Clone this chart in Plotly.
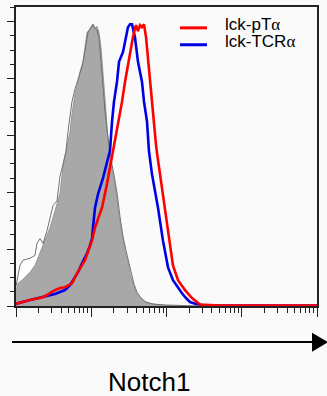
import numpy as np
import plotly.graph_objects as go

# log10 of Notch1 fluorescence intensity and % of max for each histogram
ctrl_fill_logx = [0.000, 0.027, 0.080, 0.186, 0.252, 0.319, 0.385, 0.452, 0.518, 0.585, 0.625, 0.664, 0.718, 0.744, 0.784, 0.824, 0.850, 0.890, 0.917, 0.944, 0.970, 0.997, 1.023, 1.050, 1.076, 1.103, 1.130, 1.143, 1.169, 1.196, 1.223, 1.249, 1.289, 1.329, 1.369, 1.409, 1.449, 1.488, 1.515, 1.555, 1.595, 1.648, 1.714, 1.807, 1.980, 2.179]
ctrl_fill_y = [5.6, 8.0, 9.1, 11.9, 14.3, 18.8, 23.0, 27.6, 33.5, 39.8, 49.2, 54.5, 61.4, 67.7, 74.7, 78.9, 82.4, 85.9, 91.1, 96.3, 97.0, 98.4, 99.1, 97.7, 98.4, 96.3, 91.1, 85.9, 75.4, 68.4, 57.9, 51.7, 46.4, 40.5, 31.8, 24.8, 19.5, 15.4, 11.5, 8.0, 4.9, 2.8, 1.4, 0.7, 0.2, 0.0]

ctrl_line_logx = [0.000, 0.027, 0.053, 0.093, 0.146, 0.186, 0.252, 0.279, 0.319, 0.359, 0.412, 0.452, 0.492, 0.545, 0.585, 0.625, 0.664, 0.691, 0.718, 0.744, 0.784, 0.811, 0.837, 0.877, 0.904, 0.930, 0.957, 0.983, 1.010, 1.023, 1.050, 1.076, 1.103, 1.130, 1.156, 1.183, 1.209, 1.236, 1.262, 1.302, 1.342, 1.382, 1.422, 1.462, 1.502, 1.528, 1.568, 1.608, 1.661, 1.728, 1.821, 1.980, 2.312, 2.445]
ctrl_line_y = [7.0, 10.8, 14.3, 16.1, 16.4, 16.8, 17.8, 22.0, 23.7, 22.0, 26.5, 31.1, 35.3, 37.0, 45.7, 49.9, 54.5, 61.4, 66.7, 71.9, 76.4, 78.9, 80.6, 84.1, 87.6, 92.8, 96.3, 97.4, 98.1, 99.1, 97.7, 97.0, 94.2, 85.9, 75.4, 68.4, 62.1, 56.2, 51.7, 46.1, 39.8, 31.4, 24.4, 19.5, 15.0, 11.2, 7.7, 4.9, 2.8, 1.4, 0.7, 0.35, 0.17, 0.0]

tcra_logx = [0.000, 0.027, 0.186, 0.359, 0.518, 0.585, 0.651, 0.718, 0.757, 0.824, 0.877, 0.944, 0.983, 1.010, 1.023, 1.050, 1.090, 1.156, 1.223, 1.249, 1.276, 1.302, 1.342, 1.369, 1.422, 1.462, 1.488, 1.515, 1.542, 1.581, 1.621, 1.674, 1.701, 1.741, 1.767, 1.807, 1.887, 1.953, 2.020, 2.086, 2.153, 2.206, 2.259, 2.312, 2.392, 2.512, 4.000]
tcra_y = [0.7, 1.0, 2.1, 3.1, 4.2, 4.9, 5.6, 7.3, 9.1, 11.9, 15.0, 18.5, 21.3, 23.7, 27.6, 34.6, 39.4, 45.0, 52.0, 54.5, 64.9, 71.9, 78.9, 85.9, 89.4, 94.6, 98.1, 99.1, 99.1, 94.6, 85.9, 78.9, 71.9, 64.9, 54.5, 46.4, 34.6, 23.0, 13.6, 9.1, 6.3, 4.5, 2.8, 1.4, 0.7, 0.2, 0.2]

ptra_logx = [0.000, 0.027, 0.186, 0.359, 0.452, 0.518, 0.585, 0.651, 0.744, 0.811, 0.917, 1.010, 1.050, 1.143, 1.209, 1.249, 1.276, 1.316, 1.355, 1.409, 1.449, 1.488, 1.515, 1.542, 1.568, 1.595, 1.621, 1.648, 1.674, 1.701, 1.728, 1.754, 1.781, 1.807, 1.834, 1.860, 1.874, 1.914, 1.980, 2.047, 2.086, 2.153, 2.246, 2.339, 2.445, 2.711, 4.000]
ptra_y = [0.7, 1.0, 2.1, 3.1, 4.5, 5.6, 6.3, 6.6, 8.0, 11.5, 16.1, 23.0, 27.6, 34.6, 42.9, 48.5, 52.7, 57.9, 64.2, 71.9, 78.9, 85.2, 89.4, 92.8, 96.3, 98.8, 96.7, 98.8, 98.1, 99.1, 94.6, 86.6, 79.6, 71.9, 64.2, 56.9, 53.8, 46.4, 34.6, 23.0, 14.3, 9.1, 5.6, 2.8, 0.5, 0.2, 0.2]

legend_labels = ["lck-pT", "lck-TCR"]
x_title = "Notch1"

BG = "#fafafa"
W, H = 327, 396
ML, MR, MT, MB = 16, 10, 5, 90
PW = W - ML - MR
PH = H - MT - MB


def px(x):
    return (x - ML) / PW


def py(y):
    return (H - MB - y) / PH


def tx(v):
    return [10 ** a for a in v]


fig = go.Figure()
# white-filled outline control histogram (background)
fig.add_trace(go.Scatter(x=tx(ctrl_line_logx), y=ctrl_line_y, mode="lines",
                         fill="tozeroy", fillcolor="#ffffff",
                         line=dict(width=0, color="#ffffff"), showlegend=False))
# gray filled control histogram
fig.add_trace(go.Scatter(x=tx(ctrl_fill_logx), y=ctrl_fill_y, mode="lines",
                         fill="tozeroy", fillcolor="#a8a8a8",
                         line=dict(width=0.8, color="#8c8c8c"), showlegend=False))
# outline control line
fig.add_trace(go.Scatter(x=tx(ctrl_line_logx), y=ctrl_line_y, mode="lines",
                         line=dict(width=1, color="#707070"), showlegend=False))
fig.add_trace(go.Scatter(x=tx(tcra_logx), y=tcra_y, mode="lines",
                         line=dict(width=2.6, color="#0000e6"), showlegend=False))
fig.add_trace(go.Scatter(x=tx(ptra_logx), y=ptra_y, mode="lines",
                         line=dict(width=2.6, color="#ff0000"), showlegend=False))

major = [1, 10, 100, 1000, 10000]
minor = [k * 10 ** d for d in range(4) for k in range(2, 10)]

fig.update_xaxes(type="log", range=[0, 4], showgrid=False, zeroline=False,
                 showline=True, linecolor="#222", linewidth=1.5, mirror=True,
                 ticks="outside", tickvals=major, ticklen=9, tickwidth=1.2,
                 tickcolor="#222", showticklabels=False,
                 minor=dict(tickvals=minor, ticks="outside", ticklen=5,
                            tickwidth=1.2, tickcolor="#222", showgrid=False))
fig.update_yaxes(range=[0, 105.2], showgrid=False, zeroline=False,
                 showline=True, linecolor="#222", linewidth=1.5, mirror=True,
                 ticks="outside", tickvals=[0, 20, 40, 60, 80, 100], ticklen=7,
                 tickwidth=1.2, tickcolor="#222", showticklabels=False,
                 minor=dict(dtick=5, ticks="outside", ticklen=4, tickwidth=1.2,
                            tickcolor="#222", showgrid=False))

shapes = []
# legend sample lines
for i, col in enumerate(["#ff0000", "#0000e6"]):
    yy = py(26 + 17 * i)
    shapes.append(dict(type="line", xref="paper", yref="paper",
                       x0=px(180), x1=px(207), y0=yy, y1=yy,
                       line=dict(color=col, width=3)))
# axis arrow
shapes.append(dict(type="line", xref="paper", yref="paper",
                   x0=px(12), x1=px(314), y0=py(342.3), y1=py(342.3),
                   line=dict(color="#000", width=2)))
shapes.append(dict(type="path", xref="paper", yref="paper",
                   path=f"M {px(312)},{py(333)} L {px(328)},{py(342.3)} L {px(312)},{py(352)} Z",
                   fillcolor="#000", line=dict(color="#000", width=0)))

annotations = []
for i, lab in enumerate(legend_labels):
    annotations.append(dict(xref="paper", yref="paper", x=px(223), y=py(22.4 + 17 * i),
                            xanchor="left", yanchor="middle", showarrow=False,
                            text=lab + '<span style="font-family:Liberation Serif">α</span>',
                            font=dict(family="Liberation Sans, Arial", size=17, color="#000")))
annotations.append(dict(xref="paper", yref="paper", x=px(148.5), y=py(382.2),
                        xanchor="center", yanchor="middle", showarrow=False,
                        text=x_title,
                        font=dict(family="Liberation Sans, Arial", size=26, color="#000")))

fig.update_layout(width=W, height=H, margin=dict(l=ML, r=MR, t=MT, b=MB),
                  paper_bgcolor=BG, plot_bgcolor=BG, showlegend=False,
                  shapes=shapes, annotations=annotations)

fig.write_html("out.html", config={"displayModeBar": False})
